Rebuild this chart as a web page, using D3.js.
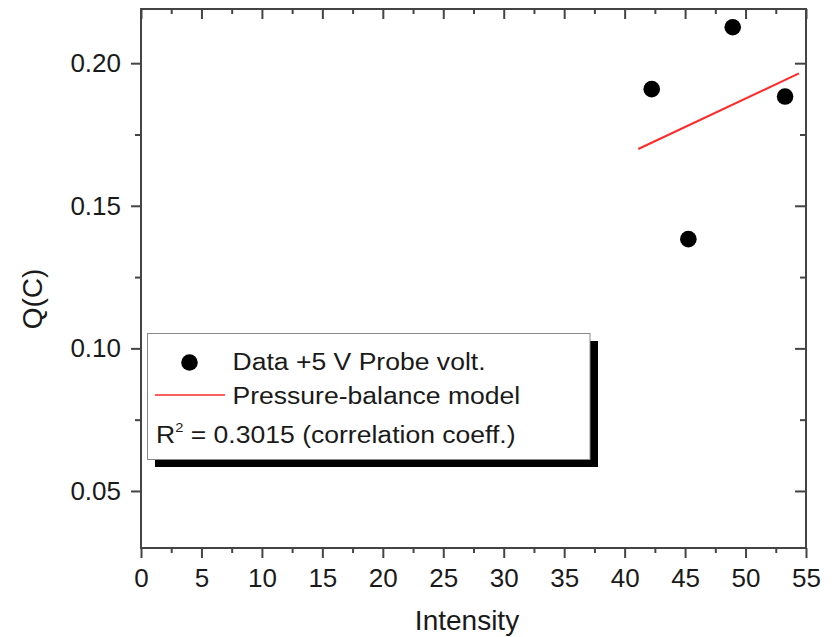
<!DOCTYPE html>
<html>
<head>
<meta charset="utf-8">
<script src="https://cdn.jsdelivr.net/npm/d3@7"></script>
<style>
  html, body { margin: 0; padding: 0; background: #fff; }
  svg { display: block; }
  text { font-family: "Liberation Sans", Arial, sans-serif; fill: #1a1a1a; }
</style>
</head>
<body>
<svg id="chart" width="834" height="637"></svg>
<script>
// Measured charge vs. intensity
const intensity = [42.24, 45.27, 48.94, 53.27];
const charge = [0.1909, 0.1383, 0.2126, 0.1883];

// Pressure-balance model line (end points)
const modelX = [41.13, 54.42];
const modelY = [0.1699, 0.1964];

const xTicks = [0, 5, 10, 15, 20, 25, 30, 35, 40, 45, 50, 55];
const xMinor = [2.5, 7.5, 12.5, 17.5, 22.5, 27.5, 32.5, 37.5, 42.5, 47.5, 52.5];
const yTicks = [0.05, 0.10, 0.15, 0.20];
const yMinor = [0.075, 0.125, 0.175];

const legendLabels = ["Data +5 V Probe volt.", "Pressure-balance model"];
const fitNote = " = 0.3015 (correlation coeff.)";

const svg = d3.select("#chart");
const plotL = 141, plotR = 806, plotT = 9, plotB = 548;

const x = d3.scaleLinear().domain([0, 55]).range([plotL, plotR]);
const y = d3.scaleLinear().domain([0.03, 0.219]).range([plotB, plotT]);

const axisColor = "#444";

// Frame with ticks on all four sides
function styleAxis(g) {
  g.select(".domain").remove();
  g.selectAll(".tick line").attr("stroke", axisColor).attr("stroke-width", 2);
}

// bottom
svg.append("g").attr("transform", `translate(0,${plotB})`)
  .call(d3.axisBottom(x).tickValues(xTicks).tickSize(10).tickPadding(11).tickFormat(d3.format("d")))
  .call(styleAxis)
  .call(g => g.selectAll("text").attr("font-size", 26).attr("fill", "#1a1a1a"));
svg.append("g").attr("transform", `translate(0,${plotB})`)
  .call(d3.axisBottom(x).tickValues(xMinor).tickSize(5).tickFormat(""))
  .call(styleAxis);
// top
svg.append("g").attr("transform", `translate(0,${plotT})`)
  .call(d3.axisTop(x).tickValues(xTicks).tickSize(-10).tickFormat(""))
  .call(styleAxis);
svg.append("g").attr("transform", `translate(0,${plotT})`)
  .call(d3.axisTop(x).tickValues(xMinor).tickSize(-5).tickFormat(""))
  .call(styleAxis);
// left
svg.append("g").attr("transform", `translate(${plotL},0)`)
  .call(d3.axisLeft(y).tickValues(yTicks).tickSize(10).tickPadding(10).tickFormat(d3.format(".2f")))
  .call(styleAxis)
  .call(g => g.selectAll("text").attr("font-size", 26).attr("fill", "#1a1a1a"));
svg.append("g").attr("transform", `translate(${plotL},0)`)
  .call(d3.axisLeft(y).tickValues(yMinor).tickSize(6).tickFormat(""))
  .call(styleAxis);
// right
svg.append("g").attr("transform", `translate(${plotR},0)`)
  .call(d3.axisRight(y).tickValues(yTicks).tickSize(-11).tickFormat(""))
  .call(styleAxis);
svg.append("g").attr("transform", `translate(${plotR},0)`)
  .call(d3.axisRight(y).tickValues(yMinor).tickSize(-6).tickFormat(""))
  .call(styleAxis);

svg.append("rect")
  .attr("x", plotL).attr("y", plotT)
  .attr("width", plotR - plotL).attr("height", plotB - plotT)
  .attr("fill", "none").attr("stroke", axisColor).attr("stroke-width", 2);

// Axis titles
svg.append("text")
  .attr("x", 467).attr("y", 630)
  .attr("text-anchor", "middle").attr("font-size", 28)
  .text("Intensity");
svg.append("text")
  .attr("transform", "translate(42,299) rotate(-90)")
  .attr("text-anchor", "middle").attr("font-size", 28)
  .text("Q(C)");

// Model line
svg.append("line")
  .attr("x1", x(modelX[0])).attr("y1", y(modelY[0]))
  .attr("x2", x(modelX[1])).attr("y2", y(modelY[1]))
  .attr("stroke", "#ff2a2a").attr("stroke-width", 2);

// Data points
svg.append("g").selectAll("circle")
  .data(intensity.map((v, i) => [v, charge[i]]))
  .join("circle")
  .attr("cx", d => x(d[0])).attr("cy", d => y(d[1]))
  .attr("r", 8.3).attr("fill", "#000");

// Legend box with drop shadow
const lg = svg.append("g");
lg.append("rect").attr("x", 155).attr("y", 341).attr("width", 443).attr("height", 126).attr("fill", "#000");
lg.append("rect").attr("x", 147.5).attr("y", 333.5).attr("width", 442.5).attr("height", 126)
  .attr("fill", "#fff").attr("stroke", "#888").attr("stroke-width", 1);

lg.append("circle").attr("cx", 189.5).attr("cy", 362.5).attr("r", 8.3).attr("fill", "#000");
lg.append("line").attr("x1", 155).attr("x2", 225).attr("y1", 395).attr("y2", 395)
  .attr("stroke", "#ff2a2a").attr("stroke-width", 1.5);

const legendFont = 23.5;
const stretch = 1.13;
function stretchedText(tx, ty, str) {
  return lg.append("text")
    .attr("transform", `translate(${tx},${ty}) scale(${stretch},1)`)
    .attr("font-size", legendFont)
    .text(str);
}
stretchedText(232.5, 370, legendLabels[0]);
stretchedText(232.5, 403.5, legendLabels[1]);
const r2 = stretchedText(156, 443, "R");
r2.append("tspan").attr("font-size", 13).attr("dy", -11).text("2");
r2.append("tspan").attr("dy", 11).text(fitNote);
</script>
</body>
</html>
